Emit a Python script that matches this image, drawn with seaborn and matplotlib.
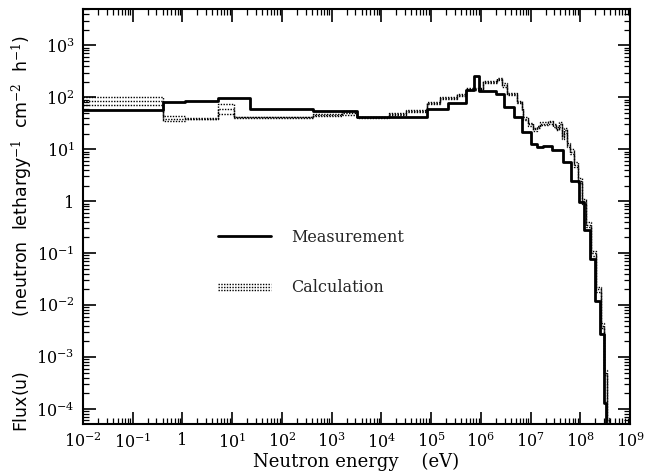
import numpy as np
import pandas as pd
import matplotlib
matplotlib.use("Agg")
import matplotlib.pyplot as plt
import seaborn as sns
from matplotlib.lines import Line2D
from matplotlib.legend_handler import HandlerBase
from matplotlib.ticker import FixedLocator, FuncFormatter, NullFormatter

# ---------------- data ----------------
# Measurement: log10 of bin edges (eV) and flux per bin
meas_log_edges = [-2, -0.39, 0.05, 0.71, 1.36, 2.63, 3.51, 4.91, 5.35, 5.71,
                  5.87, 5.97, 6.30, 6.46, 6.66, 6.82, 7.0, 7.13, 7.26, 7.43,
                  7.66, 7.82, 7.98, 8.07, 8.19, 8.30, 8.39, 8.47, 8.52]
meas_vals = [58, 80, 85, 99, 60, 54, 41, 60, 78, 136,
             254, 132, 118, 65, 42, 21.5, 12.7, 11, 11.8, 9.6,
             5.8, 2.5, 0.95, 0.28, 0.078, 0.012, 0.0028, 1.3e-4]
meas_end_log = 8.6          # spectrum falls off below the axis here
meas_end_val = 1e-8

# Calculation: log10 of bin edges (eV), central flux and band factor per bin
calc_log_edges = [-2, -0.39, 0.05, 0.71, 1.04, 2.63, 3.2, 3.51, 4.16, 4.5,
                  4.91, 5.18, 5.52, 5.71, 6.05, 6.32, 6.42, 6.52, 6.72, 6.82,
                  6.85, 6.95, 7.05, 7.12, 7.2, 7.35, 7.45, 7.52, 7.58, 7.63,
                  7.67, 7.74, 7.80, 7.88, 7.96, 8.04, 8.12, 8.22, 8.32, 8.42,
                  8.48, 8.54, 8.58]
calc_vals = [85, 39, 39, 60, 41, 45, 50, 41, 48, 54,
             79, 97, 110, 142, 198, 222, 171, 114, 81, 58,
             39, 30, 24, 27, 31, 33, 29, 25, 30, 17,
             23, 12, 9, 5, 2.5, 1.0, 0.35, 0.1, 0.02, 0.004,
             5e-4, 6e-5]
calc_band = [1.19, 1.12, 1.04, 1.25, 1.04, 1.04, 1.10, 1.04, 1.05, 1.05,
             1.05, 1.05, 1.05, 1.05, 1.05, 1.05, 1.10, 1.05, 1.05, 1.05,
             1.05, 1.05, 1.05, 1.06, 1.06, 1.06, 1.06, 1.08, 1.10, 1.10,
             1.10, 1.10, 1.12, 1.12, 1.12, 1.12, 1.12, 1.12, 1.12, 1.12,
             1.12, 1.12]
calc_end_val = 1e-8

x_tick_exps = list(range(-2, 10))
y_tick_exps = list(range(-4, 4))

# ---------------- build step tables ----------------
meas_df = pd.DataFrame({
    "E": 10.0 ** np.array(meas_log_edges + [meas_end_log]),
    "flux": meas_vals + [meas_end_val, meas_end_val],
})
calc_E = 10.0 ** np.array(calc_log_edges + [calc_log_edges[-1] + 0.04])
cv = np.array(calc_vals, dtype=float)
cb = np.array(calc_band, dtype=float)
calc_dfs = []
for vals in (cv * cb, cv, cv / cb):
    calc_dfs.append(pd.DataFrame({"E": calc_E,
                                  "flux": list(vals) + [calc_end_val, calc_end_val]}))

# ---------------- style ----------------
sns.set_theme(style="ticks")
plt.rcParams["font.family"] = ["DejaVu Serif"]
plt.rcParams["mathtext.fontset"] = "dejavuserif"

CALC_LS = (0, (1, 1.0))

fig = plt.figure(figsize=(6.46, 4.76), dpi=100)
ax = fig.add_axes([83 / 646, 1 - 424 / 476, (630 - 83) / 646, (424 - 9) / 476])
ax.set(xscale="log", yscale="log")

sns.lineplot(data=meas_df, x="E", y="flux", ax=ax, drawstyle="steps-post",
             color="black", linewidth=2.0, estimator=None, sort=False)
for d in calc_dfs:
    sns.lineplot(data=d, x="E", y="flux", ax=ax, drawstyle="steps-post",
                 color="black", linewidth=1.0, linestyle=CALC_LS,
                 estimator=None, sort=False)

ax.set_xlim(10.0 ** -2, 10.0 ** 9)
ax.set_ylim(10.0 ** -4.29, 10.0 ** 3.7)

def fmt(v, pos):
    e = int(round(np.log10(v)))
    return "1" if e == 0 else r"$10^{%d}$" % e

def minor_positions(exps, lo, hi):
    out = []
    for e in range(exps[0] - 1, exps[-1] + 1):
        for m in range(2, 10):
            v = m * 10.0 ** e
            if lo <= v <= hi:
                out.append(v)
    return out

ax.xaxis.set_major_locator(FixedLocator([10.0 ** e for e in x_tick_exps]))
ax.yaxis.set_major_locator(FixedLocator([10.0 ** e for e in y_tick_exps]))
ax.xaxis.set_minor_locator(FixedLocator(minor_positions(x_tick_exps, *ax.get_xlim())))
ax.yaxis.set_minor_locator(FixedLocator(minor_positions(y_tick_exps, *ax.get_ylim())))
ax.xaxis.set_major_formatter(FuncFormatter(fmt))
ax.yaxis.set_major_formatter(FuncFormatter(fmt))
ax.xaxis.set_minor_formatter(NullFormatter())
ax.yaxis.set_minor_formatter(NullFormatter())

ax.tick_params(which="both", direction="in", top=True, right=True,
               colors="black", labelsize=11.5)
ax.tick_params(which="major", length=9, width=1.2, pad=6)
ax.tick_params(which="minor", length=4.5, width=0.9)
for s in ax.spines.values():
    s.set_linewidth(1.5)
    s.set_color("black")

ax.set_xlabel("Neutron energy    (eV)", fontsize=13, color="black")
ax.xaxis.set_label_coords(0.5, (424 - 462) / 415)
ax.xaxis.label.set_va("center")

ax.set_ylabel(r"Flux(u)          (neutron  lethargy$^{-1}$  cm$^{-2}$  h$^{-1}$)",
              fontsize=12.5, color="black", family="DejaVu Sans")
ax.yaxis.set_label_coords((22 - 83) / 547, (424 - 234) / 415)
ax.yaxis.label.set_va("center")


class BandHandler(HandlerBase):
    def create_artists(self, legend, orig_handle, xdescent, ydescent,
                       width, height, fontsize, trans):
        arts = []
        for dy in (-2.2, 0.0, 2.2):
            y = height / 2 - ydescent + dy
            arts.append(Line2D([-xdescent, -xdescent + width], [y, y],
                               color="black", linewidth=1.0,
                               linestyle=CALC_LS, transform=trans))
        return arts


meas_handle = Line2D([], [], color="black", linewidth=2.0)
calc_handle = Line2D([], [], color="black")
ax.legend([meas_handle, calc_handle], ["Measurement", "Calculation"],
          handler_map={calc_handle: BandHandler()},
          loc="upper left", bbox_to_anchor=(0.247, 0.47), frameon=False,
          fontsize=11.5, handlelength=3.3, handletextpad=1.25,
          labelspacing=2.1, borderpad=0, borderaxespad=0)

fig.savefig("out.png", dpi=100, facecolor="white")
